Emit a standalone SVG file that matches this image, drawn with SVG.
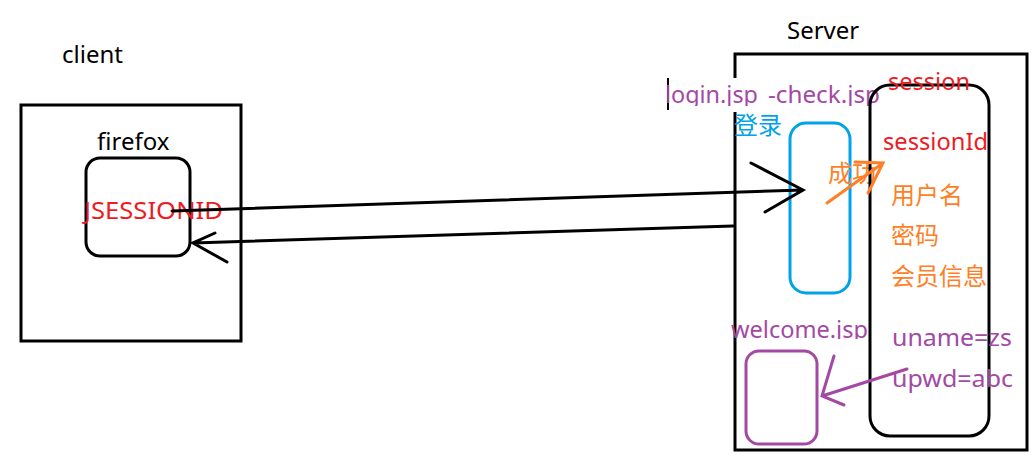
<svg xmlns="http://www.w3.org/2000/svg" width="1035" height="459" viewBox="0 0 1035 459">
<style>
text{font-family:"Noto Sans","Noto Sans CJK SC",sans-serif;font-size:24px}
.k{fill:#000}.r{fill:#ed1c24}.p{fill:#a349a4}.o{fill:#ff7f27}.b{fill:#00a2e8}
.box{fill:none;stroke:#000;stroke-width:3}
.ln{fill:none;stroke:#000;stroke-width:3;stroke-linecap:round}
</style>
<defs>
<clipPath id="c1"><rect x="600" y="60" width="300" height="46"/></clipPath>
<clipPath id="c2"><rect x="700" y="300" width="200" height="39"/></clipPath>
</defs>
<rect width="1035" height="459" fill="#fff"/>
<g id="client">
<text class="k" x="62" y="63">client</text>
<rect class="box" x="21" y="105" width="220" height="236"/>
</g>
<g id="firefox">
<text class="k" x="97" y="150">firefox</text>
<rect class="box" x="86" y="158" width="104" height="98" rx="14"/>
<text class="r" x="84" y="219" textLength="139" lengthAdjust="spacingAndGlyphs">JSESSIONID</text>
</g>
<g id="server">
<text class="k" x="787" y="39">Server</text>
<rect class="box" x="735" y="54" width="292" height="396"/>
<rect x="666" y="78" width="96" height="34" fill="#fff"/>
<line x1="668" y1="78" x2="668" y2="110" stroke="#000" stroke-width="2"/>
<text class="p" y="103" clip-path="url(#c1)"><tspan x="665" textLength="93" lengthAdjust="spacingAndGlyphs">login.jsp</tspan> <tspan x="768" textLength="112" lengthAdjust="spacingAndGlyphs">-check.jsp</tspan></text>
<text class="b" x="734" y="134">登录</text>
</g>
<g id="check">
<rect x="790" y="123" width="60" height="170" rx="16" fill="none" stroke="#00a2e8" stroke-width="3"/>
<text class="o" x="828" y="182">成功</text>
</g>
<g id="session">
<rect class="box" x="870" y="85" width="119" height="351" rx="20"/>
<text class="r" x="888" y="90" textLength="82" lengthAdjust="spacingAndGlyphs">session</text>
<text class="r" x="883" y="150" textLength="105" lengthAdjust="spacingAndGlyphs">sessionId</text>
<text class="o" x="891" y="204">用户名</text>
<text class="o" x="891" y="244">密码</text>
<text class="o" x="891" y="285">会员信息</text>
<text class="p" x="892" y="346" textLength="120" lengthAdjust="spacingAndGlyphs">uname=zs</text>
<text class="p" x="892" y="387" textLength="121" lengthAdjust="spacingAndGlyphs">upwd=abc</text>
</g>
<g id="welcome">
<text class="p" x="731" y="338" clip-path="url(#c2)" textLength="137" lengthAdjust="spacingAndGlyphs">welcome.jsp</text>
<rect x="746" y="351" width="71" height="93" rx="13" fill="none" stroke="#a349a4" stroke-width="3"/>
</g>
<g id="connectors">
<path class="ln" d="M172,211 L803,190 M751,163 L803,190 L765,212"/>
<path class="ln" d="M733,226 L193,243 M215,233 L193,243 L227,262"/>
<path d="M827,203 L883,163 M855,162 L883,163 L868,193" fill="none" stroke="#ff7f27" stroke-width="3" stroke-linecap="round"/>
<path d="M907,369 L822,396 M834,356 L822,396 L844,405" fill="none" stroke="#a349a4" stroke-width="3" stroke-linecap="round"/>
</g>
</svg>
